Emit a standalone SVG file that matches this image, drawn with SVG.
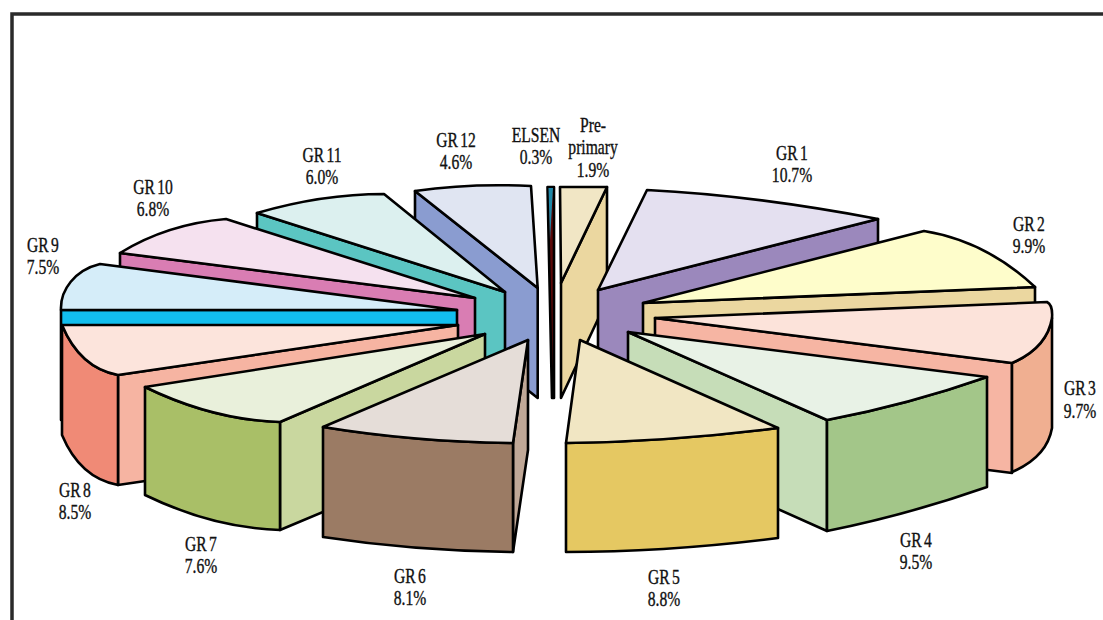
<svg xmlns="http://www.w3.org/2000/svg" width="1103" height="620" viewBox="0 0 1103 620">
<style>
.e{stroke:#000;stroke-width:2.6;stroke-linejoin:round}
.lbl{font-family:"Liberation Serif",serif;font-size:20px;fill:#111;stroke:#111;stroke-width:0.35;text-anchor:middle;word-spacing:-2px}
</style>
<rect width="1103" height="620" fill="#fff"/>
<path d="M12,620 L12,14 L1103,14" fill="none" stroke="#2a2a2a" stroke-width="3.5"/>
<g id="slices">
<g id="preprimary">
<path class="e" d="M607,187 L561,283 L561,398 L607,300 Z" fill="#EBD7A0"/>
<path class="e" d="M560,187 L607,187 L561,283 Z" fill="#F1E6C5"/>
</g>
<g id="elsen">
<path class="e" d="M547.5,187 L554,187 L554,398 L552,398 Z" fill="#5C0808"/>
<path d="M548.5,188 L553,188 L550,240 Z" fill="#1F88A8"/>
</g>
<g id="gr12">
<path class="e" d="M415,191 L537.7,288 L537.7,398 L415,301 Z" fill="#8A9CD0"/>
<path class="e" d="M415,191 Q470,183 531,186 L537.7,288 Z" fill="#E0E5F2"/>
</g>
<g id="gr11">
<path class="e" d="M257,213 L505,292 L505,402 L257,323 Z" fill="#5BC5C2"/>
<path class="e" d="M257,213 Q322,194 384,194 L505,292 Z" fill="#DCF0EF"/>
</g>
<g id="gr10">
<path class="e" d="M120,253 L475,298 L475,408 L120,363 Z" fill="#D97DB3"/>
<path class="e" d="M120,253 Q167,224 226,219 L475,298 Z" fill="#F5E1EF"/>
</g>
<g id="gr9">
<path class="e" d="M61,310 L457,310 L457,420 L61,420 Z" fill="#12BEEE"/>
<path class="e" d="M61,310 C60,290 75,270 100,264 L457,310 Z" fill="#D5EDF9"/>
</g>
<g id="gr8">
<path class="e" d="M118,375 L458,325 L458,435 L118,485 Z" fill="#F6B4A2"/>
<path class="e" d="M62,325 Q80,368 118,375 L118,485 Q80,478 62,435 Z" fill="#F08A76"/>
<path class="e" d="M62,325 L458,325 L118,375 Q80,368 62,325 Z" fill="#FCE4DC"/>
</g>
<g id="gr7">
<path class="e" d="M280,422 L485,334 L485,444 L280,530 Z" fill="#C9D79F"/>
<path class="e" d="M145,387 Q213,420 280,422 L280,530 Q213,528 145,495 Z" fill="#A9BF67"/>
<path class="e" d="M145,387 L485,334 L280,422 Q213,420 145,387 Z" fill="#E9F0DB"/>
</g>
<g id="gr6">
<path class="e" d="M513,443 L528,340 L528,450 L513,552 Z" fill="#C0A897"/>
<path class="e" d="M323,427 Q415,442 513,443 L513,552 Q415,551 323,537 Z" fill="#9B7B64"/>
<path class="e" d="M323,427 L528,340 L513,443 Q415,442 323,427 Z" fill="#E5DDD8"/>
</g>
<g id="gr1">
<path class="e" d="M878,219 L598,290 L598,400 L878,329 Z" fill="#9B88BC"/>
<path class="e" d="M647,190 Q751,195 878,219 L598,290 Z" fill="#E4E0F0"/>
</g>
<g id="gr2">
<path class="e" d="M1035,287 L643,303 L643,413 L1035,397 Z" fill="#EBD7A0"/>
<path class="e" d="M924,231 Q986,241 1035,287 L643,303 Z" fill="#FEFDCB"/>
</g>
<g id="gr3">
<path class="e" d="M1012,363 L655,318 L655,428 L1012,473 Z" fill="#F6B5A3"/>
<path class="e" d="M1052,318 Q1047,348 1012,363 L1012,472 Q1047,457 1052,428 Z" fill="#F0AF91"/>
<path class="e" d="M655,318 L1047,302 Q1053,305 1052,318 Q1047,348 1012,363 Z" fill="#FCE3DA"/>
</g>
<g id="gr4">
<path class="e" d="M628,332 L827,420 L827,531 L628,442 Z" fill="#C6DDB8"/>
<path class="e" d="M827,420 Q907,405 987,377 L987,487 Q907,515 827,531 Z" fill="#A3C689"/>
<path class="e" d="M628,332 L987,377 Q907,405 827,420 Z" fill="#E8F2E6"/>
</g>
<g id="gr5">
<path class="e" d="M566,443 Q668,442 778,428 L778,538 Q668,552 566,552 Z" fill="#E5C862"/>
<path class="e" d="M580,340 L778,428 Q668,442 566,443 Z" fill="#F1E6C3"/>
</g>
</g>
<g id="labels">
<text class="lbl" transform="translate(593,132) scale(0.78,1)"><tspan x="0">Pre-</tspan><tspan x="0" dy="22.5">primary</tspan><tspan x="0" dy="22.5">1.9%</tspan></text>
<text class="lbl" transform="translate(536,142) scale(0.78,1)"><tspan x="0">ELSEN</tspan><tspan x="0" dy="22.5">0.3%</tspan></text>
<text class="lbl" transform="translate(456,147) scale(0.78,1)"><tspan x="0">GR 12</tspan><tspan x="0" dy="22.5">4.6%</tspan></text>
<text class="lbl" transform="translate(322,162) scale(0.78,1)"><tspan x="0">GR 11</tspan><tspan x="0" dy="22.5">6.0%</tspan></text>
<text class="lbl" transform="translate(153,194) scale(0.78,1)"><tspan x="0">GR 10</tspan><tspan x="0" dy="22.5">6.8%</tspan></text>
<text class="lbl" transform="translate(43,252) scale(0.78,1)"><tspan x="0">GR 9</tspan><tspan x="0" dy="22.5">7.5%</tspan></text>
<text class="lbl" transform="translate(792,160) scale(0.78,1)"><tspan x="0">GR 1</tspan><tspan x="0" dy="22.5">10.7%</tspan></text>
<text class="lbl" transform="translate(1029,231) scale(0.78,1)"><tspan x="0">GR 2</tspan><tspan x="0" dy="22.5">9.9%</tspan></text>
<text class="lbl" transform="translate(1080,395) scale(0.78,1)"><tspan x="0">GR 3</tspan><tspan x="0" dy="23">9.7%</tspan></text>
<text class="lbl" transform="translate(916,547) scale(0.78,1)"><tspan x="0">GR 4</tspan><tspan x="0" dy="22.5">9.5%</tspan></text>
<text class="lbl" transform="translate(664,584) scale(0.78,1)"><tspan x="0">GR 5</tspan><tspan x="0" dy="22.5">8.8%</tspan></text>
<text class="lbl" transform="translate(410,583) scale(0.78,1)"><tspan x="0">GR 6</tspan><tspan x="0" dy="22.5">8.1%</tspan></text>
<text class="lbl" transform="translate(201,551) scale(0.78,1)"><tspan x="0">GR 7</tspan><tspan x="0" dy="22.5">7.6%</tspan></text>
<text class="lbl" transform="translate(75,497) scale(0.78,1)"><tspan x="0">GR 8</tspan><tspan x="0" dy="22.5">8.5%</tspan></text>
</g>
</svg>
